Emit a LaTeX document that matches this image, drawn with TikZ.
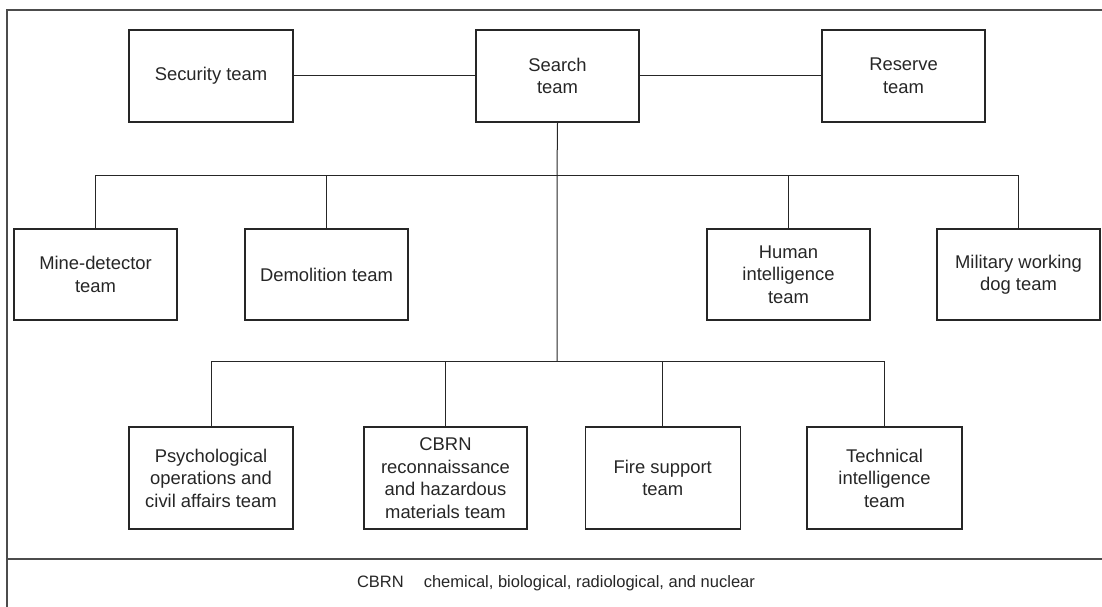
\documentclass[tikz,border=0pt]{standalone}
\usepackage{fontspec}
\setmainfont{Liberation Sans}
\usepackage{tikz}

\begin{document}
\begin{tikzpicture}[x=1pt, y=-1pt,
  every node/.style={inner sep=0pt, align=center, font=\fontsize{18.4}{22.5}\selectfont, text=black!85},
  team/.style={draw, line width=1.4pt, draw=black!85, minimum width=163pt, minimum height=91pt},
  link/.style={line width=1pt, draw=black!85}]
  \useasboundingbox (0,0) rectangle (1102,607);
  % frame and footer
  \draw[line width=1.6pt, draw=black!70] (1104,10) -- (7,10) -- (7,609);
  \draw[line width=1.6pt, draw=black!70] (7,559) -- (1104,559);
  \node (abbr) at (556,583) {\fontsize{16.5}{20}\selectfont CBRN\hspace{20pt}chemical, biological, radiological, and nuclear};
  % top row
  \node (sec) [team, minimum width=164pt, minimum height=92pt] at (211,76) {Security team};
  \node (search) [team, minimum height=92pt] at (557.5,76) {Search\\team};
  \node (reserve) [team, minimum height=92pt] at (903.5,76) {Reserve\\team};
  % second row
  \node (mine) [team] at (95.5,274.5) {Mine-detector\\team};
  \node (demo) [team] at (326.5,274.5) {Demolition team};
  \node (human) [team] at (788.5,274.5) {Human\\intelligence\\team};
  \node (dog) [team] at (1018.5,274.5) {Military working\\dog team};
  % third row
  \node (psy) [team, minimum width=164pt, minimum height=102pt] at (211,478) {Psychological\\operations and\\civil affairs team};
  \node (cbrn) [team, minimum height=102pt] at (445.5,478) {CBRN\\reconnaissance\\and hazardous\\materials team};
  \node (fire) [team, minimum width=155pt, minimum height=102pt] at (662.7,478) {Fire support\\team};
  \node (tech) [team, minimum width=155pt, minimum height=102pt] at (884.5,478) {Technical\\intelligence\\team};
  % connectors
  \coordinate (bus1) at (557,175);
  \coordinate (bus2) at (557,361);
  \draw[link] (sec) -- (search);
  \draw[link] (search) -- (reserve);
  \draw[link] (search.south) -- (bus1) -- (bus2);
  \draw[link] (bus1) -| (mine);
  \draw[link] (bus1) -| (demo);
  \draw[link] (bus1) -| (human);
  \draw[link] (bus1) -| (dog);
  \draw[link] (bus2) -| (psy);
  \draw[link] (bus2) -| (cbrn);
  \draw[link] (bus2) -| (fire);
  \draw[link] (bus2) -| (tech);
\end{tikzpicture}
\end{document}
